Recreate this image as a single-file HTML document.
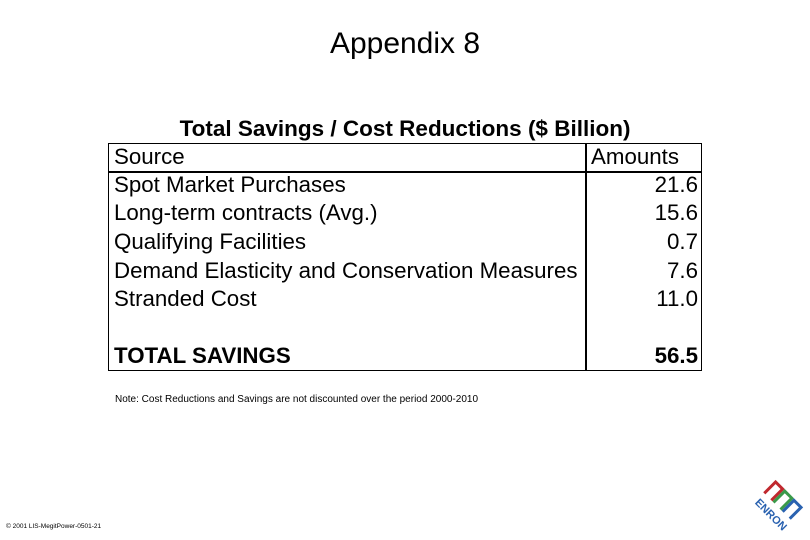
<!DOCTYPE html>
<html><head><meta charset="utf-8"><style>
body{margin:0;width:810px;height:540px;background:#fff;position:relative;overflow:hidden;font-family:"Liberation Sans",Arial,sans-serif;color:#000}
.a{position:absolute;white-space:nowrap}
.r{position:absolute;font-size:22.3px;line-height:24px;left:114px}
.v{position:absolute;font-size:22.3px;line-height:24px;right:112px;text-align:right}
</style></head><body>
<div class="a" style="left:0;width:810px;text-align:center;top:27px;font-size:30px">Appendix 8</div>
<div class="a" style="left:108px;width:594px;text-align:center;top:116px;font-size:22.5px;font-weight:bold">Total Savings / Cost Reductions ($ Billion)</div>
<div class="a" style="left:108px;top:143px;width:592px;height:226px;border:1.5px solid #000"></div>
<div class="a" style="left:585px;top:143px;width:1.5px;height:228px;background:#000"></div>
<div class="a" style="left:108px;top:171px;width:594px;height:1.5px;background:#000"></div>
<div class="r" style="top:145px">Source</div>
<div class="a" style="left:591px;top:145px;font-size:22.3px;line-height:24px">Amounts</div>
<div class="r" style="top:173px">Spot Market Purchases</div><div class="v" style="top:173px">21.6</div>
<div class="r" style="top:201px">Long-term contracts (Avg.)</div><div class="v" style="top:201px">15.6</div>
<div class="r" style="top:230px">Qualifying Facilities</div><div class="v" style="top:230px">0.7</div>
<div class="r" style="top:259px">Demand Elasticity and Conservation Measures</div><div class="v" style="top:259px">7.6</div>
<div class="r" style="top:287px">Stranded Cost</div><div class="v" style="top:287px">11.0</div>
<div class="r" style="top:344px;font-weight:bold">TOTAL SAVINGS</div><div class="v" style="top:344px;font-weight:bold">56.5</div>
<div class="a" style="left:115px;top:394px;font-size:10px">Note: Cost Reductions and Savings are not discounted over the period 2000-2010</div>
<div class="a" style="left:6px;top:523px;font-size:6.5px">© 2001 LIS-MegitPower-0501-21</div>
<svg class="a" style="left:745px;top:474px" width="64" height="64" viewBox="0 0 64 64">
<g fill="none" stroke-width="3" transform="translate(32 32) rotate(45) translate(-32 -32)">
<path d="M14 32 V16 H24 V32" stroke="#c0282e"/>
<path d="M27 32 V16 H37 V32" stroke="#3a9a4a"/>
<path d="M40 32 V16 H50 V32" stroke="#2a62b0"/>
<text x="14" y="46" font-size="11" font-weight="bold" fill="#2a62b0" font-family="Liberation Sans" stroke="none">ENRON</text>
</g>
</svg>
</body></html>
